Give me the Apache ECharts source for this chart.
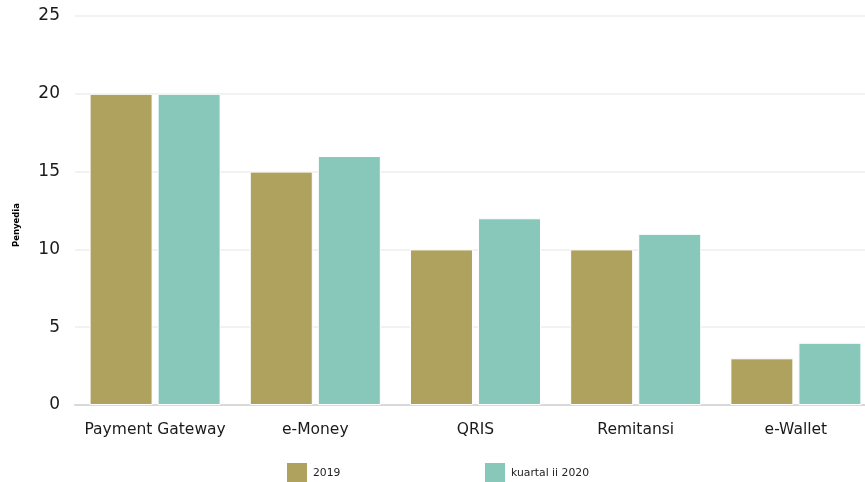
<!DOCTYPE html>
<html><head><meta charset="utf-8">
<script src="https://cdn.jsdelivr.net/npm/echarts@6/dist/echarts.min.js"></script>
<style>html,body{margin:0;padding:0;background:#fff}#c{width:865px;height:482px}</style>
</head><body><div id="c"></div>
<script>
const categories = ['Payment Gateway', 'e-Money', 'QRIS', 'Remitansi', 'e-Wallet'];
const values2019 = [20, 15, 10, 10, 3];
const valuesQ2_2020 = [20, 16, 12, 11, 4];
const seriesNames = ['2019', 'kuartal ii 2020'];
const yAxisName = 'Penyedia';

const font = 'DejaVu Sans';
const chart = echarts.init(document.getElementById('c'));
chart.setOption({
  animation: false,
  grid: { left: 75, width: 801, top: 16, height: 389, outerBoundsMode: 'none', containLabel: false },
  legend: [
    { data: [seriesNames[0]], left: 287, top: 463, padding: 0, itemWidth: 20, itemHeight: 20, icon: 'rect',
      itemGap: 0, itemStyle: { borderWidth: 0 },
      textStyle: { fontFamily: font, fontSize: 10.8, color: '#222', padding: [0, 0, 0, 1] } },
    { data: [seriesNames[1]], left: 485, top: 463, padding: 0, itemWidth: 20, itemHeight: 20, icon: 'rect',
      itemGap: 0, itemStyle: { borderWidth: 0 },
      textStyle: { fontFamily: font, fontSize: 10.8, color: '#222', padding: [0, 0, 0, 1] } }
  ],
  xAxis: {
    type: 'category', data: categories,
    axisLine: { lineStyle: { color: '#d9d9d9', width: 2 } },
    axisTick: { alignWithLabel: true, lineStyle: { color: '#d9d9d9' }, length: 5 },
    axisLabel: { interval: 0, fontFamily: font, fontSize: 15.5, color: '#1a1a1a', margin: 17 }
  },
  yAxis: {
    type: 'value', min: 0, max: 25, interval: 5,
    axisLine: { show: false }, axisTick: { show: false },
    splitLine: { lineStyle: { color: '#f2f2f2', width: 2 } },
    axisLabel: { fontFamily: font, fontSize: 17, color: '#1a1a1a', margin: 15 }
  },
  graphic: [{
    type: 'text', left: 12, top: 203, rotation: Math.PI / 2,
    style: { text: yAxisName, fontFamily: font, fontSize: 8.5, fontWeight: 'bold', fill: '#000' }
  }],
  series: [
    { name: seriesNames[0], type: 'bar', data: values2019, barWidth: 63, barGap: '8%',
      itemStyle: { color: '#afa15e', borderColor: '#ffffff', borderWidth: 1 } },
    { name: seriesNames[1], type: 'bar', data: valuesQ2_2020, barWidth: 63,
      itemStyle: { color: '#88c8bb', borderColor: '#ffffff', borderWidth: 1 } }
  ]
});
</script></body></html>
